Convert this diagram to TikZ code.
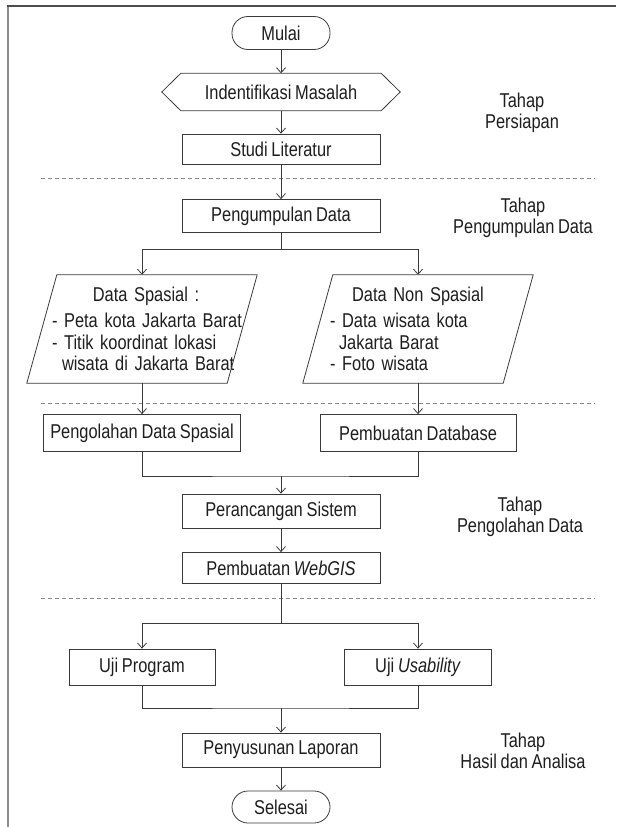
\documentclass[tikz,border=0pt]{standalone}
\usepackage{fontspec}
\setmainfont[FakeStretch=0.82,WordSpace=0.82]{Liberation Sans}
\usetikzlibrary{arrows.meta}
\definecolor{garis}{HTML}{3A3A3A}
\definecolor{teks}{HTML}{1E1E1E}
\definecolor{putus}{HTML}{8A8A8A}

\begin{document}
\begin{tikzpicture}[x=1pt,y=-1pt,
    every node/.style={text=teks,font=\fontsize{20}{21.5}\selectfont},
    kotak/.style={draw=garis,line width=0.8pt,minimum width=198,minimum height=33,inner sep=0pt},
    terminal/.style={kotak,rounded corners=16pt,minimum width=98,minimum height=33},
    bidang/.style={inner sep=0pt,minimum height=37},
    masukan/.style={inner sep=0pt,minimum width=200,minimum height=108,text width=192,align=left},
    tahap/.style={align=center},
    garisalir/.style={draw=garis,line width=0.8pt},
    panah/.style={garisalir,-{Straight Barb[length=5pt,width=9pt]}},
    pemisah/.style={draw=putus,line width=0.8pt,dash pattern=on 4pt off 3pt}]
  \useasboundingbox (0,0) rectangle (616,827);

  % bingkai
  \draw[draw=black!45,line width=2pt] (8,827) -- (8,6);
  \draw[draw=black!70,line width=1.6pt] (7,6) -- (616,6);

  % batas tahap
  \draw[pemisah] (41,178) -- (595,178);
  \draw[pemisah] (41,403) -- (595,403);
  \draw[pemisah] (41,598) -- (595,598);

  \node[terminal] (mulai) at (281,33) {Mulai};
  \node[bidang,minimum width=238] (ident) at (281,92) {Indentifikasi Masalah};
  \draw[garisalir] (ident.west) -- ([xshift=19pt]ident.north west) -- ([xshift=-19pt]ident.north east)
    -- (ident.east) -- ([xshift=-19pt]ident.south east) -- ([xshift=19pt]ident.south west) -- cycle;
  \node[kotak,minimum height=30] (studi) at (281,149) {Studi Literatur};
  \node[kotak] (kumpul) at (281,216) {Pengumpulan Data};

  \node[masukan] (spasial) at (142,329) {\makebox[\linewidth]{\hspace*{8pt}Data Spasial :}\\[5pt]
    \hspace*{6pt}\mbox{- Peta kota Jakarta Barat}\\
    \hspace*{6pt}\mbox{- Titik koordinat lokasi}\\
    \hspace*{16pt}\mbox{wisata di Jakarta Barat}};
  \node[masukan] (nonspasial) at (418,329) {\makebox[\linewidth]{Data Non Spasial}\\[5pt]
    \hspace*{8pt}\mbox{- Data wisata kota}\\
    \hspace*{17pt}\mbox{Jakarta Barat}\\
    \hspace*{8pt}\mbox{- Foto wisata}};
  \draw[garisalir] ([xshift=15pt]spasial.north west) -- ([xshift=15pt]spasial.north east)
    -- ([xshift=-15pt]spasial.south east) -- ([xshift=-15pt]spasial.south west) -- cycle;
  \draw[garisalir] ([xshift=15pt]nonspasial.north west) -- ([xshift=15pt]nonspasial.north east)
    -- ([xshift=-15pt]nonspasial.south east) -- ([xshift=-15pt]nonspasial.south west) -- cycle;

  \node[kotak,minimum width=197,minimum height=37] (olah) at (142,433) {Pengolahan Data Spasial};
  \node[kotak,minimum width=196,minimum height=37] (dbase) at (418,433) {Pembuatan Database};
  \node[kotak,minimum height=34] (rancang) at (281,511) {Perancangan Sistem};
  \node[kotak,minimum height=31] (webgis) at (281,568) {Pembuatan \textit{WebGIS}};
  \node[kotak,minimum width=146,minimum height=36] (ujiprog) at (142,667) {Uji Program};
  \node[kotak,minimum width=147,minimum height=36] (ujius) at (418,667) {Uji \textit{Usability}};
  \node[kotak,minimum height=34] (lapor) at (281,750) {Penyusunan Laporan};
  \node[terminal,minimum height=32] (selesai) at (281,807) {Selesai};

  \node[tahap] (tahap1) at (522,113) {Tahap\\Persiapan};
  \node[tahap] (tahap2) at (523,218) {Tahap\\Pengumpulan Data};
  \node[tahap] (tahap3) at (520,517) {Tahap\\Pengolahan Data};
  \node[tahap] (tahap4) at (523,751) {Tahap\\Hasil dan Analisa};

  \coordinate (cabang1) at (281,249);
  \coordinate (gabung1) at (281,476);
  \coordinate (cabang2) at (281,623);
  \coordinate (gabung2) at (281,708);

  \draw[panah] (mulai) -- (ident);
  \draw[panah] (ident) -- (studi);
  \draw[panah] (studi) -- (kumpul);
  \draw[garisalir] (kumpul) -- (cabang1);
  \draw[panah] (cabang1) -| (spasial);
  \draw[panah] (cabang1) -| (nonspasial);
  \draw[panah] (spasial) -- (olah);
  \draw[panah] (nonspasial) -- (dbase);
  \draw[garisalir] (olah) |- (gabung1) -| (dbase);
  \draw[panah] (gabung1) -- (rancang);
  \draw[panah] (rancang) -- (webgis);
  \draw[garisalir] (webgis) -- (cabang2);
  \draw[panah] (cabang2) -| (ujiprog);
  \draw[panah] (cabang2) -| (ujius);
  \draw[garisalir] (ujiprog) |- (gabung2) -| (ujius);
  \draw[panah] (gabung2) -- (lapor);
  \draw[panah] (lapor) -- (selesai);
\end{tikzpicture}
\end{document}
